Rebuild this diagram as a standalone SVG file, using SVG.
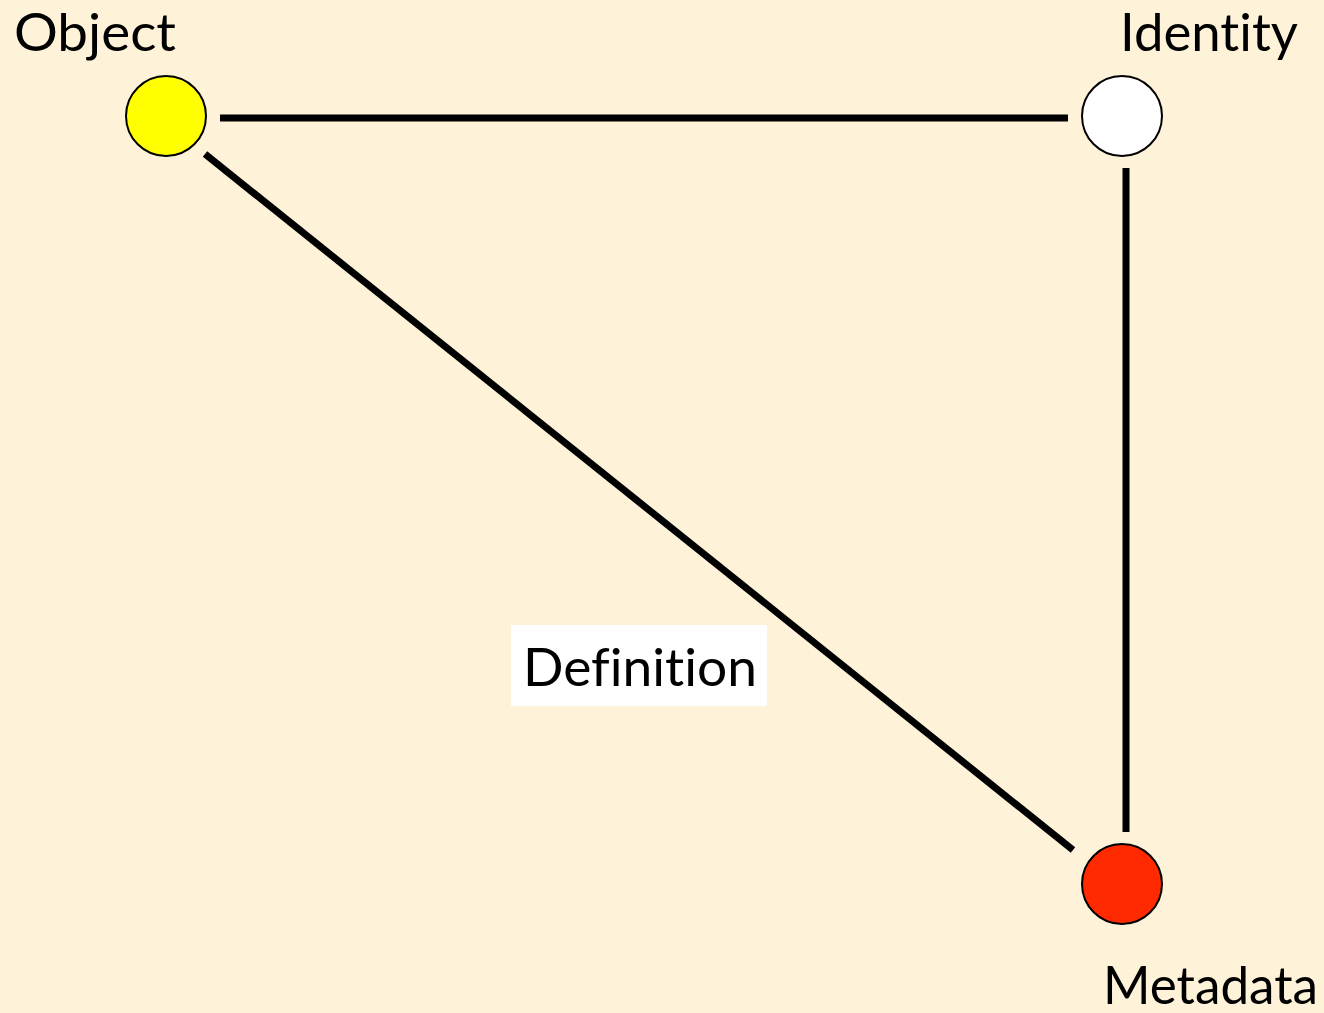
<svg xmlns="http://www.w3.org/2000/svg" width="1324" height="1013" viewBox="0 0 1324 1013">
<style>
.lbl{font-family:Lato,"Open Sans","Liberation Sans",sans-serif;font-size:52px;fill:#000;font-variant-ligatures:none;font-feature-settings:"liga" 0,"clig" 0}
.edge{stroke:#000;stroke-width:7;fill:none}
.node{stroke:#000;stroke-width:2}
</style>
<rect width="1324" height="1013" fill="#FEF3D8"/>
<g id="connectors">
<line class="edge" x1="220" y1="118" x2="1068" y2="118"/>
<line class="edge" x1="1126" y1="168" x2="1126" y2="832"/>
<line class="edge" x1="205" y1="154" x2="1073" y2="850"/>
</g>
<g id="definition-label">
<rect x="511" y="625" width="256" height="81" fill="#FFFFFF"/>
<text class="lbl" x="523" y="686" textLength="234" lengthAdjust="spacingAndGlyphs">Definition</text>
</g>
<g id="object">
<circle class="node" cx="166" cy="116" r="40" fill="#FFFF00"/>
<text class="lbl" x="14" y="51" textLength="162" lengthAdjust="spacingAndGlyphs">Object</text>
</g>
<g id="identity">
<circle class="node" cx="1122" cy="116" r="40" fill="#FFFFFF"/>
<text class="lbl" x="1120" y="51" textLength="178" lengthAdjust="spacingAndGlyphs">Identity</text>
</g>
<g id="metadata">
<circle class="node" cx="1122" cy="884" r="40" fill="#FF2A00"/>
<text class="lbl" x="1103" y="1004" textLength="215" lengthAdjust="spacingAndGlyphs">Metadata</text>
</g>
</svg>
